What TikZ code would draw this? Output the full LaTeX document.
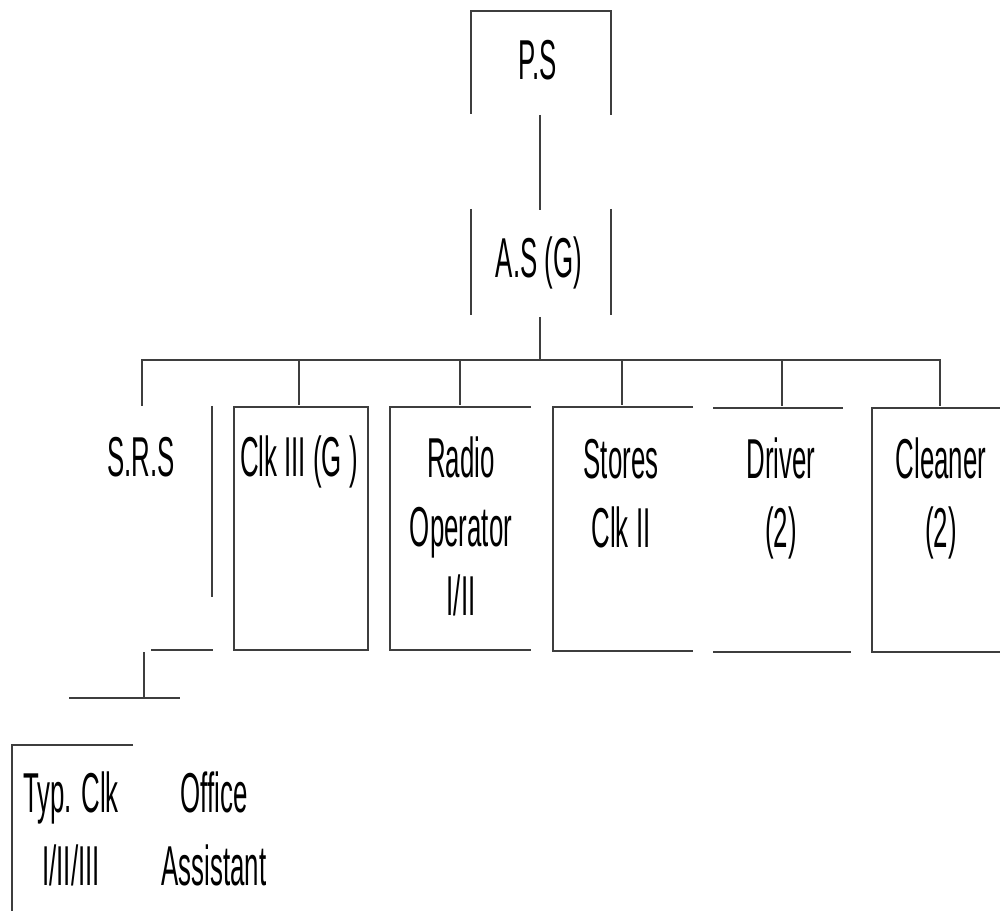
\documentclass[tikz,border=0pt]{standalone}
\usepackage{fontspec}
\setmainfont{Liberation Sans}[FakeStretch=0.46]
\usepackage{xcolor}
\usetikzlibrary{positioning}
\definecolor{inkline}{RGB}{62, 62, 62}

\begin{document}
\begin{tikzpicture}[x=0.02cm, y=-0.02cm,
    post/.style={inner sep=0pt, align=center, anchor=base, font=\fontsize{32}{39}\selectfont},
    frame/.style={line width=1.4pt, draw=inkline},
    link/.style={line width=1.3pt, draw=inkline}
]
    \useasboundingbox (0,0) rectangle (1000,911);

    \node[post] (ps) at (538,80) {P.S};
    \node[post] (as) at (539,278) {A.S (G)};

    \node[post] (srs) at (141,477) {S.R.S};
    \node[post] (clk) at (299,477) {Clk III (G )};
    \node[post] (radio) at (461,615) {Radio\\Operator\\I/II};
    \node[post] (stores) at (621,547) {Stores\\Clk II};
    \node[post] (driver) at (781,547) {Driver\\(2)};
    \node[post] (cleaner) at (941,547) {Cleaner\\(2)};

    \node[post, font=\fontsize{32}{41}\selectfont] (typ) at (71,885) {Typ. Clk\\I/II/III};
    \node[post, font=\fontsize{32}{41}\selectfont] (office) at (214,885) {Office\\Assistant};

    % open box outlines
    \draw[frame] (471,114) -- (471,11) -- (611,11) -- (611,115);
    \draw[frame] (471,209) -- (471,315) (611,209) -- (611,315);
    \draw[frame] (212,406) -- (212,597) (151,650) -- (213,650);
    \draw[frame] (234,407) rectangle (368,650);
    \draw[frame] (531,407) -- (390,407) -- (390,650) -- (531,650);
    \draw[frame] (693,407) -- (553,407) -- (553,651) -- (693,651);
    \draw[frame] (713,408) -- (843,408) (713,652) -- (851,652);
    \draw[frame] (1000,408) -- (872,408) -- (872,652) -- (1000,652);
    \draw[frame] (133,745) -- (12,745) -- (12,911);

    \coordinate (ps-s) at (540,115);
    \coordinate (as-n) at (540,210);
    \coordinate (as-s) at (540,317);
    \coordinate (bus) at (540,360);
    \coordinate (srs-n) at (142,406);
    \coordinate (clk-n) at (299,405);
    \coordinate (radio-n) at (460,405);
    \coordinate (stores-n) at (622,405);
    \coordinate (driver-n) at (782,406);
    \coordinate (cleaner-n) at (940,406);
    \coordinate (srs-s) at (144,652);
    \coordinate (sub-bus) at (144,698);

    \draw[link] (ps-s) -- (as-n);
    \draw[link] (as-s) -- (bus);
    \draw[link] (srs-n) |- (bus) -| (cleaner-n);
    \foreach \n in {clk, radio, stores, driver}
        \draw[link] (\n-n |- bus) -- (\n-n);
    \draw[link] (srs-s) -- (sub-bus);
    \draw[link] (sub-bus -| 69,0) -- (sub-bus -| 180,0);
\end{tikzpicture}
\end{document}
